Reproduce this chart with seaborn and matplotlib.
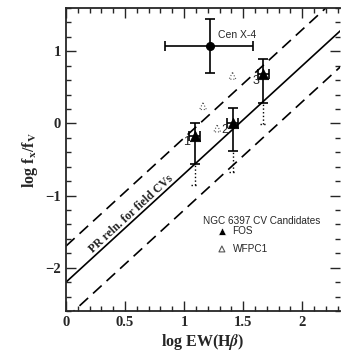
import numpy as np
import pandas as pd
import matplotlib
matplotlib.use("Agg")
import matplotlib.pyplot as plt
import seaborn as sns
from matplotlib.ticker import MultipleLocator

# FOS candidates (filled triangles)
fos_x = [1.09, 1.41, 1.67]
fos_y = [-0.17, 0.00, 0.68]
fos_xerr = [0.045, 0.045, 0.045]
fos_yhi = [0.01, 0.22, 0.89]
fos_ylo = [-0.56, -0.38, 0.29]
fos_limit = [-0.86, -0.67, -0.01]
fos_names = ["1", "2", "3"]

# WFPC1 candidates (open dotted triangles)
wfpc_x = [1.16, 1.28, 1.41]
wfpc_y = [0.24, -0.07, 0.66]

# Cen X-4
cen_x, cen_y = 1.22, 1.07
cen_xrange = (0.84, 1.58)
cen_yrange = (0.70, 1.45)

# PR relation for field CVs
slope, intercept, spread = 1.5, -2.2, 0.5
rel_x = [0.0, 2.4]

sns.set_style("ticks")
plt.rcParams['font.family'] = ['Liberation Serif', 'DejaVu Serif']
plt.rcParams['mathtext.fontset'] = 'stix'

fig = plt.figure(figsize=(3.41, 3.57), dpi=100)
ax = fig.add_axes([66/341, 1 - 311/357, 274/341, 303/357])

rel = pd.DataFrame({"x": rel_x})
rel["mid"] = slope * rel["x"] + intercept
rel["up"] = rel["mid"] + spread
rel["lo"] = rel["mid"] - spread
sns.lineplot(data=rel, x="x", y="mid", color="black", lw=1.2, ax=ax)
sns.lineplot(data=rel, x="x", y="up", color="black", lw=1.2, ax=ax).lines[-1].set_dashes([7, 4])
sns.lineplot(data=rel, x="x", y="lo", color="black", lw=1.2, ax=ax).lines[-1].set_dashes([7, 4])

# FOS error bars
fy = np.array(fos_y)
yerr = [fy - np.array(fos_ylo), np.array(fos_yhi) - fy]
ax.errorbar(fos_x, fos_y, xerr=fos_xerr, yerr=yerr, fmt='none', ecolor='black',
            elinewidth=1.2, capsize=3.5, capthick=1.2)
ax.vlines(fos_x, fos_limit, fos_ylo, colors='black', linestyles=':', lw=1.0)
for xv, lv in zip(fos_x, fos_limit):
    ax.plot([xv - 0.03, xv + 0.03], [lv, lv], color='black', ls=':', lw=1.0)
sns.scatterplot(x=fos_x, y=fos_y, marker='^', s=55, color='black', edgecolor='black', ax=ax, zorder=5)
for xv, yv, name in zip(fos_x, fos_y, fos_names):
    ax.text(xv - 0.065, yv - 0.09, name, fontsize=9, family='Liberation Sans', ha='center', va='center')

# WFPC1
sns.scatterplot(x=wfpc_x, y=wfpc_y, marker='^', s=24, facecolor='none', edgecolor='#555555',
                linewidth=0.8, linestyle=':', ax=ax)

# Cen X-4
ax.errorbar([cen_x], [cen_y],
            xerr=[[cen_x - cen_xrange[0]], [cen_xrange[1] - cen_x]],
            yerr=[[cen_y - cen_yrange[0]], [cen_yrange[1] - cen_y]],
            fmt='o', ms=5.5, color='black', elinewidth=1.2, capsize=3.5, capthick=1.2)
ax.text(1.29, 1.22, "Cen X-4", fontsize=7.5, family='Liberation Sans', ha='left', va='center')

# relation label
ax.text(0.55, -1.26, "PR reln. for field CVs", fontsize=8.5, fontweight='bold',
        rotation=np.degrees(np.arctan(slope)), transform_rotates_text=True,
        rotation_mode='anchor', ha='center', va='center')

# legend text
ax.text(1.16, -1.35, "NGC 6397 CV Candidates", fontsize=7.2, family='Liberation Sans', ha='left', va='center')
sns.scatterplot(x=[1.32], y=[-1.49], marker='^', s=30, color='black', ax=ax)
ax.text(1.41, -1.49, "FOS", fontsize=7.2, family='Liberation Sans', ha='left', va='center')
sns.scatterplot(x=[1.32], y=[-1.74], marker='^', s=18, facecolor='none', edgecolor='#555555',
                linewidth=0.8, ax=ax)
ax.text(1.41, -1.74, "WFPC1", fontsize=7.2, family='Liberation Sans', ha='left', va='center')

ax.set_xlim(0, 2.32)
ax.set_ylim(-2.6, 1.6)
ax.xaxis.set_minor_locator(MultipleLocator(0.1))
ax.yaxis.set_minor_locator(MultipleLocator(0.2))
ax.set_xticks([0, 0.5, 1, 1.5, 2])
ax.set_xticklabels(["0", "0.5", "1", "1.5", "2"])
ax.set_yticks([-2, -1, 0, 1])
ax.set_yticklabels(["\u22122", "\u22121", "0", "1"])
ax.tick_params(which='both', direction='in', top=True, right=True, labelsize=10.5, width=1)
ax.tick_params(which='major', length=7)
ax.tick_params(which='minor', length=3.5)
for lab in ax.get_xticklabels() + ax.get_yticklabels():
    lab.set_fontweight('bold')
for sp in ax.spines.values():
    sp.set_linewidth(1.3)
ax.spines['right'].set_visible(False)

ax.set_xlabel(r"log EW(H$\boldsymbol{\beta}$)", fontsize=11.5, fontweight='bold', labelpad=2)
ax.set_ylabel(r"log f$_\mathbf{x}$/f$_\mathbf{V}$", fontsize=11.5, fontweight='bold', labelpad=4)

fig.savefig("out.png", dpi=100)
